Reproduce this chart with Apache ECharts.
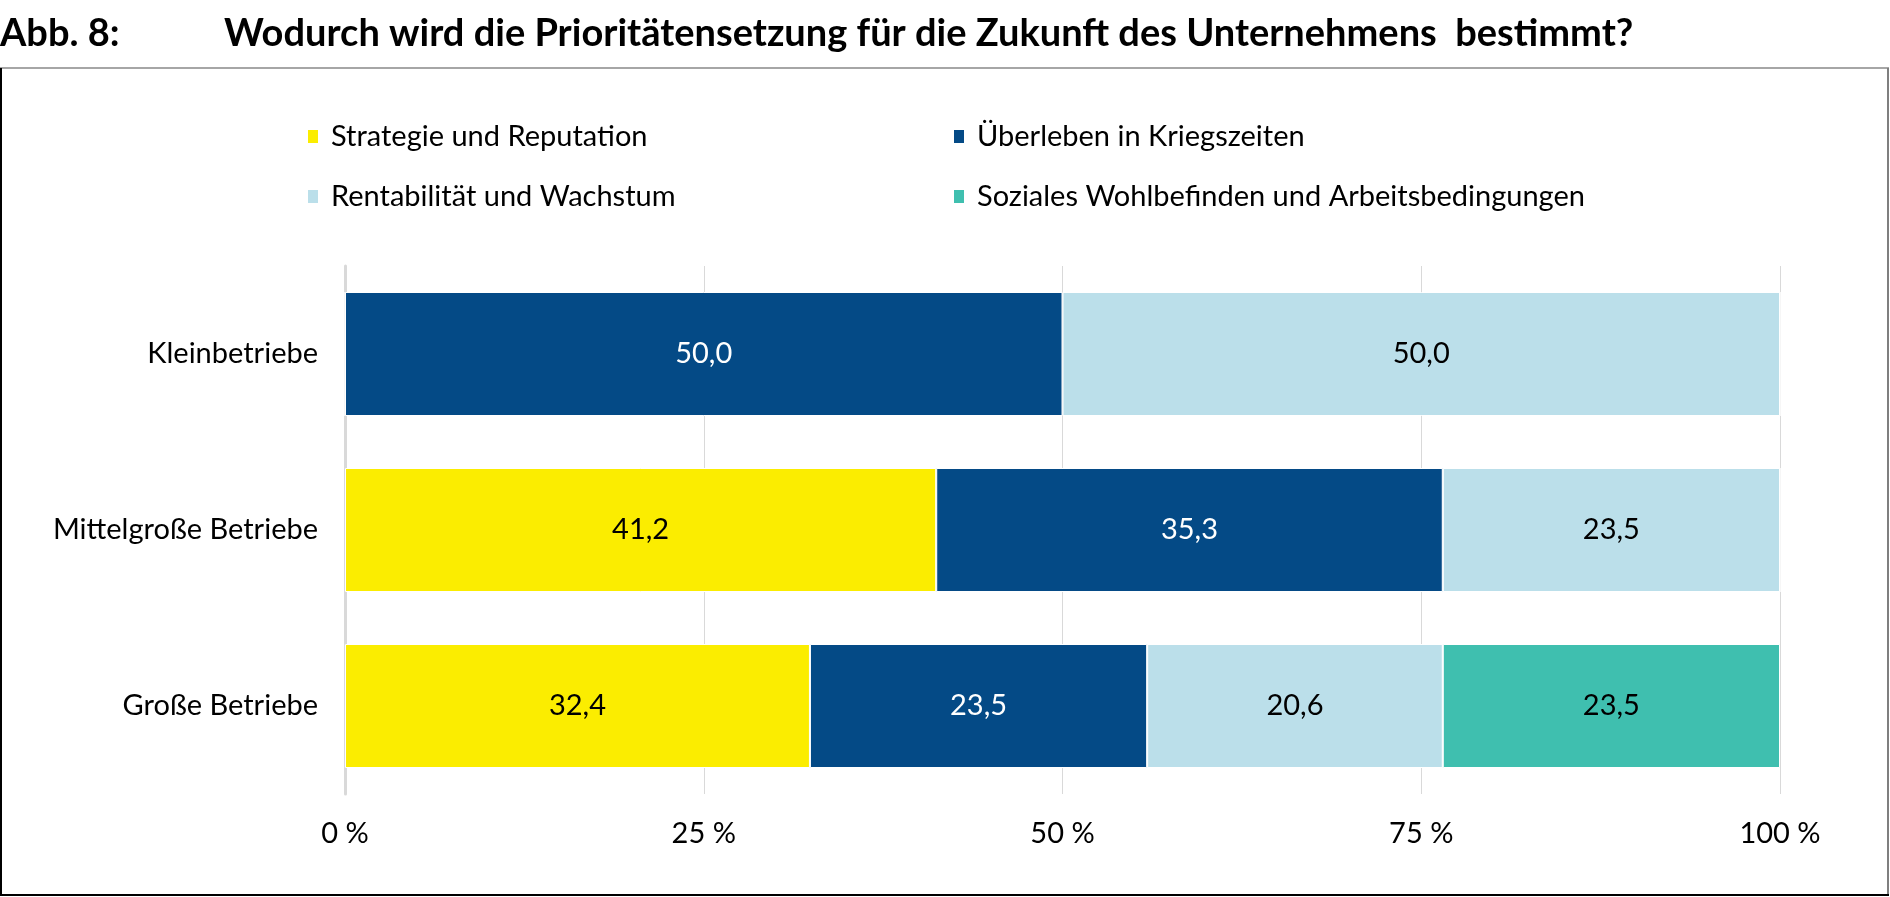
<!DOCTYPE html>
<html>
<head>
<meta charset="utf-8">
<script src="https://cdn.jsdelivr.net/npm/echarts@6/dist/echarts.min.js"></script>
<style>
html,body{margin:0;padding:0;background:#fff;}
#chart{width:1890px;height:897px;}
</style>
</head>
<body>
<div id="chart"></div>
<script>
const categories = ['Kleinbetriebe', 'Mittelgroße Betriebe', 'Große Betriebe'];
const seriesNames = ['Strategie und Reputation', 'Überleben in Kriegszeiten', 'Rentabilität und Wachstum', 'Soziales Wohlbefinden und Arbeitsbedingungen'];
const strategie = [0, 41.2, 32.4];
const ueberleben = [50.0, 35.3, 23.5];
const rentabilitaet = [50.0, 23.5, 20.6];
const soziales = [0, 0, 23.5];
const xTicks = [0, 25, 50, 75, 100];
const colors = ['#FBED00', '#044A86', '#BBDFEA', '#3FBFAF'];
const labelColors = ['#000', '#fff', '#000', '#000'];

const values = [strategie, ueberleben, rentabilitaet, soziales];
const FONT = 'Lato';
const FS = 29;

const chart = echarts.init(document.getElementById('chart'), null, {renderer: 'canvas'});

const series = seriesNames.map((name, i) => ({
  name: name,
  type: 'bar',
  stack: 'total',
  barWidth: 124,
  data: values[i],
  itemStyle: {color: colors[i], borderColor: '#fff', borderWidth: 1},
  label: {
    show: true,
    position: 'inside',
    color: labelColors[i],
    fontFamily: FONT,
    fontSize: FS,
    formatter: p => p.value > 0 ? p.value.toFixed(1).replace('.', ',') : ''
  }
}));

const legendStyle = {fontFamily: FONT, fontSize: FS, color: '#000', padding: [0, 0, 0, 7]};

chart.setOption({
  animation: false,
  backgroundColor: '#fff',
  textStyle: {fontFamily: FONT},
  title: [
    {text: 'Abb. 8:', left: 0, top: 15, padding: 0, textStyle: {fontFamily: FONT, fontWeight: 'bold', fontSize: 38, color: '#000'}},
    {text: 'Wodurch wird die Prioritätensetzung für die Zukunft des Unternehmens  bestimmt?', left: 224, top: 15, padding: 0, textStyle: {fontFamily: FONT, fontWeight: 'bold', fontSize: 38, color: '#000'}}
  ],
  legend: [
    {
      data: [seriesNames[0], seriesNames[2]],
      orient: 'vertical', left: 306, top: 122, itemGap: 31, padding: 0,
      itemWidth: 12, itemHeight: 15, icon: 'rect',
      textStyle: legendStyle
    },
    {
      data: [seriesNames[1], seriesNames[3]],
      orient: 'vertical', left: 952, top: 122, itemGap: 31, padding: 0,
      itemWidth: 12, itemHeight: 15, icon: 'rect',
      textStyle: legendStyle
    }
  ],
  grid: {left: 345, right: 110, top: 266, bottom: 103, containLabel: false},
  xAxis: {
    type: 'value', min: xTicks[0], max: xTicks[xTicks.length - 1], interval: 25,
    axisLine: {show: false}, axisTick: {show: false},
    splitLine: {show: true, lineStyle: {color: '#d9d9d9', width: 1}},
    axisLabel: {formatter: v => v + ' %', fontFamily: FONT, fontSize: FS, color: '#000', margin: 25}
  },
  yAxis: {
    type: 'category', data: categories, inverse: true,
    axisLine: {show: true, lineStyle: {color: '#d9d9d9', width: 3}},
    axisTick: {show: false},
    axisLabel: {fontFamily: FONT, fontSize: FS, color: '#000', margin: 27}
  },
  graphic: [
    {type: 'line', shape: {x1: 0, y1: 68, x2: 1889, y2: 68}, style: {stroke: '#a6a6a6', lineWidth: 2}},
    {type: 'line', shape: {x1: 1888, y1: 68, x2: 1888, y2: 896}, style: {stroke: '#7f7f7f', lineWidth: 2}},
    {type: 'line', shape: {x1: 1, y1: 68, x2: 1, y2: 896}, style: {stroke: '#000', lineWidth: 2}},
    {type: 'line', shape: {x1: 0, y1: 895, x2: 1889, y2: 895}, style: {stroke: '#000', lineWidth: 2}}
  ],
  series: series
});
</script>
</body>
</html>
